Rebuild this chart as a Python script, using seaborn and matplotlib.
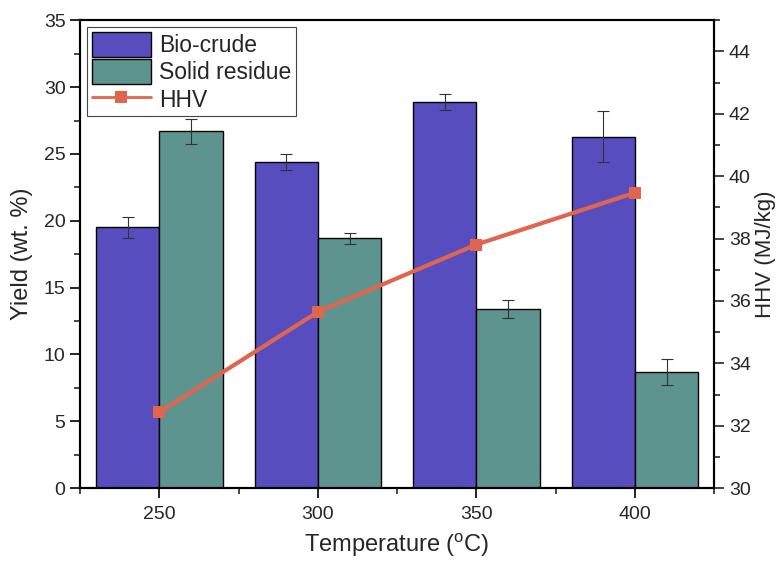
import numpy as np
import pandas as pd
import matplotlib
matplotlib.use('Agg')
import matplotlib.pyplot as plt
import seaborn as sns
from matplotlib.ticker import MultipleLocator
from matplotlib.patches import Patch
from matplotlib.lines import Line2D

temps = ['250', '300', '350', '400']
bio_crude = [19.5, 24.4, 28.9, 26.3]
bio_crude_err = [0.8, 0.6, 0.6, 1.9]
solid_residue = [26.7, 18.7, 13.4, 8.7]
solid_residue_err = [0.95, 0.4, 0.7, 0.95]
hhv = [32.43, 35.65, 37.81, 39.47]

C_BIO = '#584DBE'
C_SOLID = '#5E948F'
C_HHV = '#E0654E'

sns.set_theme(style='ticks')
plt.rcParams['font.family'] = ['Liberation Sans', 'DejaVu Sans']
plt.rcParams['mathtext.fontset'] = 'custom'
plt.rcParams['mathtext.rm'] = 'Liberation Sans'

df = pd.DataFrame({
    'Temperature': temps * 2,
    'Yield': bio_crude + solid_residue,
    'Product': ['Bio-crude'] * 4 + ['Solid residue'] * 4,
})

fig = plt.figure(figsize=(7.78, 5.63), dpi=100)
ax = fig.add_axes([0.103, 0.133, 0.815, 0.831])

sns.barplot(data=df, x='Temperature', y='Yield', hue='Product',
            palette=[C_BIO, C_SOLID], width=0.8, edgecolor='black',
            linewidth=1.0, saturation=1, ax=ax, legend=False)

# error bars placed on the bar centres that seaborn produced
bars = [p for p in ax.patches][:8]
centers = [b.get_x() + b.get_width() / 2 for b in bars]
heights = [b.get_height() for b in bars]
errs = bio_crude_err + solid_residue_err
ax.errorbar(centers, heights, yerr=errs, fmt='none', ecolor='#333333',
            elinewidth=0.8, capsize=4, capthick=0.8, zorder=5)

ax.set_xlim(-0.5, 3.5)
ax.set_ylim(0, 35)
ax.yaxis.set_major_locator(MultipleLocator(5))
ax.yaxis.set_minor_locator(MultipleLocator(2.5))
ax.set_xticks(range(4))
ax.set_xticks(np.arange(-0.5, 4, 1), minor=True)
ax.set_xlabel(r'Temperature ($^{\mathrm{o}}$C)', fontsize=17, labelpad=6)
ax.set_ylabel('Yield (wt. %)', fontsize=17, labelpad=8)
ax.tick_params(axis='both', which='major', labelsize=14, length=7, width=1.2,
               direction='out', color='black')
ax.tick_params(axis='both', which='minor', length=4, width=1.2, direction='out')
ax.tick_params(axis='x', which='major', pad=6)

ax2 = ax.twinx()
sns.lineplot(x=np.arange(len(hhv)), y=hhv, ax=ax2, color=C_HHV, linewidth=3,
             marker='s', markersize=9, markeredgewidth=0, markerfacecolor=C_HHV)
ax2.set_ylim(30, 45)
ax2.yaxis.set_major_locator(MultipleLocator(2))
ax2.yaxis.set_minor_locator(MultipleLocator(1))
ax2.set_ylabel('HHV (MJ/kg)', fontsize=16, labelpad=3)
ax2.tick_params(axis='y', which='major', labelsize=14, length=7, width=1.2,
                direction='out')
ax2.tick_params(axis='y', which='minor', length=4, width=1.2, direction='out')

for a in (ax, ax2):
    for s in a.spines.values():
        s.set_linewidth(1.5)
        s.set_color('black')
        s.set_visible(True)

handles = [
    Patch(facecolor=C_BIO, edgecolor='black', linewidth=1.0, label='Bio-crude'),
    Patch(facecolor=C_SOLID, edgecolor='black', linewidth=1.0, label='Solid residue'),
    Line2D([], [], color=C_HHV, linewidth=2, marker='s', markersize=9,
           markeredgewidth=0, label='HHV'),
]
leg = ax2.legend(handles=handles, loc='upper left', fontsize=16.5, frameon=True,
                 fancybox=False, edgecolor='#444444', framealpha=1,
                 handlelength=2.6, handleheight=1.3, handletextpad=0.35,
                 labelspacing=0.1, borderpad=0.2, borderaxespad=0.3)
leg.get_frame().set_linewidth(0.8)

fig.savefig('out.png', dpi=100)
